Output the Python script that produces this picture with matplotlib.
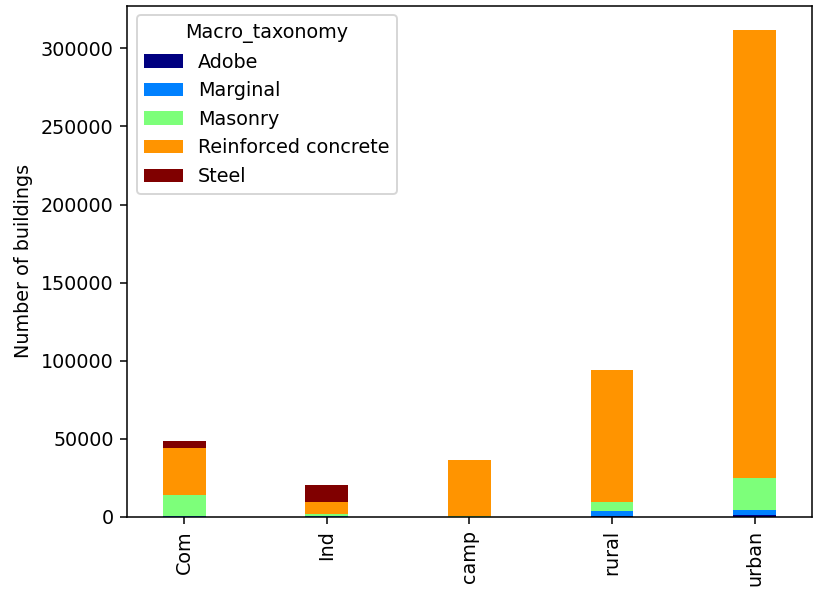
import matplotlib
matplotlib.use('Agg')
import matplotlib.pyplot as plt
import numpy as np

categories = ['Com', 'Ind', 'camp', 'rural', 'urban']
adobe = [0, 0, 0, 300, 1200]
marginal = [300, 300, 0, 3300, 3300]
masonry = [13700, 1700, 300, 6000, 20500]
reinforced = [30300, 7800, 36200, 84300, 286600]
steel = [4300, 10700, 0, 0, 0]

series = [('Adobe', adobe), ('Marginal', marginal), ('Masonry', masonry),
          ('Reinforced concrete', reinforced), ('Steel', steel)]
colors = plt.cm.jet(np.linspace(0, 1, len(series)))

# drawn at 138 dpi so default 10pt text matches the reference size
DPI = 138
fig = plt.figure(figsize=(815 / DPI, 590 / DPI), dpi=DPI)
ax = fig.add_axes([0.156, 0.124, 0.84, 0.866])

x = np.arange(len(categories))
bottom = np.zeros(len(categories))
for (name, vals), col in zip(series, colors):
    ax.bar(x, vals, 0.3, bottom=bottom, color=col, label=name)
    bottom += np.array(vals)

ax.set_xlim(-0.4, 4.4)
ax.set_ylim(0, bottom.max() * 1.05)
ax.set_xticks(x)
ax.set_xticklabels(categories, rotation=90)
ax.set_ylabel('Number of buildings')
ax.legend(title='Macro_taxonomy', loc='upper left')

fig.savefig('out.png', dpi=DPI)
